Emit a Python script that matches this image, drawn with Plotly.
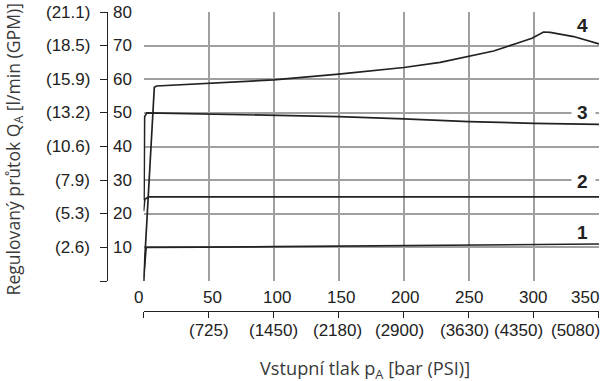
import plotly.graph_objects as go

# ---- data ----
bar_ticks = [0, 50, 100, 150, 200, 250, 300, 350]
bar_labels = ["0", "50", "100", "150", "200", "250", "300", "350"]
psi_labels = ["", "(725)", "(1450)", "(2180)", "(2900)", "(3630)", "(4350)", "(5080)"]
flow_ticks = [0, 10, 20, 30, 40, 50, 60, 70, 80]
flow_labels = ["", "10", "20", "30", "40", "50", "60", "70", "80"]
gpm_labels = ["", "(2.6)", "(5.3)", "(7.9)", "(10.6)", "(13.2)", "(15.9)", "(18.5)", "(21.1)"]

c1_x = [0, 2, 100, 200, 350]
c1_y = [0, 10, 10.2, 10.5, 11.0]
c2_x = [0, 1, 4, 350]
c2_y = [20.8, 24.3, 25.0, 25.0]
c3_x = [0.4, 0.8, 2.5, 50, 150, 200, 250, 300, 350]
c3_y = [24.0, 48.8, 50.0, 49.7, 48.9, 48.2, 47.4, 46.9, 46.6]
c4_x = [0, 8.3, 10, 50, 100, 150, 200, 228, 251, 269, 287, 298.5, 307.4, 312.5, 330.5, 350]
c4_y = [0, 57.6, 58.0, 58.8, 59.8, 61.5, 63.5, 65.0, 66.9, 68.4, 70.7, 72.2, 74.05, 73.96, 72.7, 70.5]

curve_names = ["1", "2", "3", "4"]
curve_label_y = [14.3, 29.6, 50, 76.0]
gap_lines = [30, 50]

# ---- style ----
num_font = "Liberation Sans, Arial, sans-serif"
title_font = "Open Sans, Noto Sans, sans-serif"
grid = "#a0a0a0"
ink = "#222222"
NS = 17

fig = go.Figure()
for xs, ys in [(c1_x, c1_y), (c2_x, c2_y), (c3_x, c3_y), (c4_x, c4_y)]:
    fig.add_trace(go.Scatter(x=xs, y=ys, mode="lines",
                             line=dict(color=ink, width=1.7), showlegend=False,
                             hoverinfo="skip"))
# activates the offset axes (flow axis line and PSI axis line)
fig.add_trace(go.Scatter(x=[None], y=[None], xaxis="x2", yaxis="y2",
                         showlegend=False, hoverinfo="skip"))

fig.update_layout(
    template="none",
    width=603, height=381,
    margin=dict(l=40, r=4, t=12, b=30),
    paper_bgcolor="white", plot_bgcolor="rgba(0,0,0,0)",
    xaxis=dict(domain=[0.1852, 1], range=[0, 350], tickvals=bar_ticks,
               showticklabels=False, showgrid=True, gridcolor=grid, gridwidth=1.5,
               zeroline=False, showline=False, ticks=""),
    yaxis=dict(domain=[0.2065, 1], range=[0, 80], tickvals=flow_ticks[1:],
               showticklabels=False, showgrid=True, gridcolor=grid, gridwidth=1.5,
               zeroline=False, showline=False, ticks=""),
    xaxis2=dict(overlaying="x", anchor="free", position=0.118, side="bottom",
                range=[0, 350], tickvals=bar_ticks, showticklabels=False,
                ticks="outside", ticklen=6, tickcolor=ink, tickwidth=1,
                showline=True, linecolor=ink, linewidth=1,
                showgrid=False, zeroline=False),
    yaxis2=dict(overlaying="y", anchor="free", position=0.1199, side="left",
                range=[0, 80], tickvals=flow_ticks, showticklabels=False,
                ticks="outside", ticklen=7, tickcolor=ink, tickwidth=1,
                showline=True, linecolor=ink, linewidth=1,
                showgrid=False, zeroline=False),
)

for v, g, f in zip(flow_ticks, gpm_labels, flow_labels):
    if g:
        fig.add_annotation(x=0.093, y=v, xref="paper", yref="y", text=g,
                           showarrow=False, xanchor="right", yanchor="middle",
                           font=dict(family=num_font, size=NS, color=ink))
        fig.add_annotation(x=0.1199, y=v, xref="paper", yref="y", text=f,
                           showarrow=False, xanchor="left", yanchor="middle", xshift=4,
                           font=dict(family=num_font, size=NS, color=ink))

bar_shift = [-5, 4, 3, 2, 1, 0, -1, 0]
psi_shift = [0, 0, 0, -1, -4, -4, -15, 0]
for i, (v, lab, plab) in enumerate(zip(bar_ticks, bar_labels, psi_labels)):
    last = i == len(bar_ticks) - 1
    fig.add_annotation(x=v, y=0.1578, xref="x", yref="paper", text=lab,
                       showarrow=False, xanchor="right" if last else "center",
                       xshift=2 if last else bar_shift[i], yanchor="middle",
                       font=dict(family=num_font, size=NS, color=ink))
    if plab:
        fig.add_annotation(x=v, y=0.0619, xref="x", yref="paper", text=plab,
                           showarrow=False, xanchor="right" if last else "center",
                           xshift=3 if last else psi_shift[i], yanchor="middle",
                           font=dict(family=num_font, size=NS, color=ink))

for gy in gap_lines:
    fig.add_annotation(x=350, y=gy, xref="x", yref="y", text=" ", showarrow=False,
                       xanchor="right", yanchor="middle", xshift=-3, width=23, height=4,
                       bgcolor="white", borderpad=0, font=dict(size=2))
for name, yv in zip(curve_names, curve_label_y):
    fig.add_annotation(x=350, y=yv, xref="x", yref="y", text="<b>%s</b>" % name,
                       showarrow=False, xanchor="right", xshift=-10, yanchor="middle",
                       borderpad=0, font=dict(family=num_font, size=19, color=ink))

fig.add_annotation(x=-0.0456, y=0.593, xref="paper", yref="paper", textangle=-90,
                   text="Regulovaný průtok Q<sub>A</sub> [l/min (GPM)]", showarrow=False,
                   xanchor="center", yanchor="middle",
                   font=dict(family=title_font, size=17.6, color="#3a3a3a"))
fig.add_annotation(x=0.5813, y=-0.0531, xref="paper", yref="paper",
                   text="Vstupní tlak p<sub>A</sub> [bar (PSI)]", showarrow=False,
                   xanchor="center", yanchor="middle",
                   font=dict(family=title_font, size=18.2, color="#3a3a3a"))

fig.write_html("out.html", config={"displayModeBar": False},
               post_script="document.body.style.margin='0';")
